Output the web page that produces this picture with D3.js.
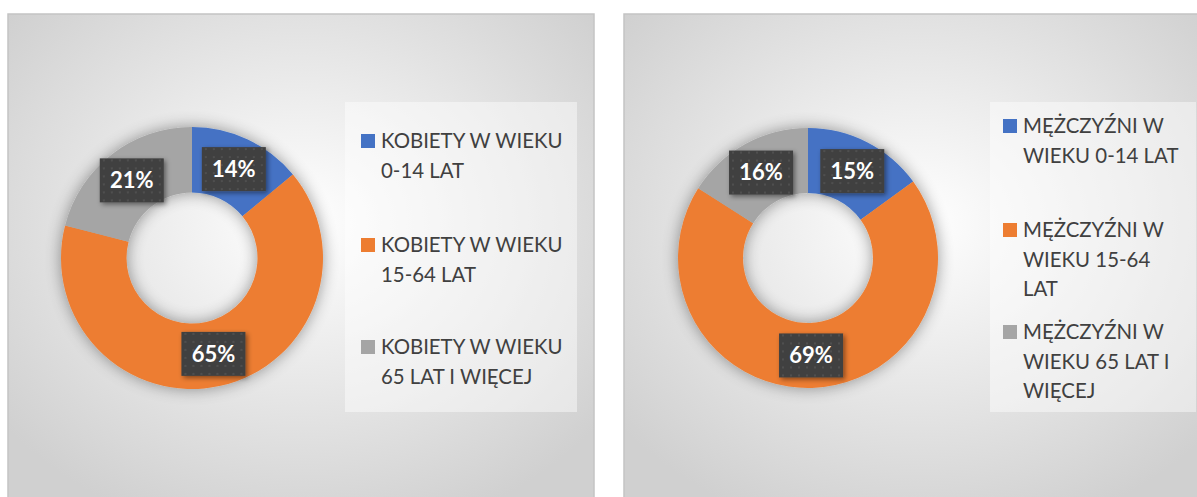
<html>
  <head>
    <meta charset="utf-8">
    <title>Struktura wieku</title>
    <script src="https://cdn.jsdelivr.net/npm/d3@7"></script>
    <style>
      body { margin: 0; background: #ffffff; }
      svg text { font-family: Lato, "Open Sans", sans-serif; }
    </style>
  </head>
  <body>
    <svg id="chart" width="1197" height="497"></svg>
    <script>
      // dane
      const womenLabels = ["KOBIETY W WIEKU 0-14 LAT", "KOBIETY W WIEKU 15-64 LAT", "KOBIETY W WIEKU 65 LAT I WIĘCEJ"]
      const womenLines = [["KOBIETY W WIEKU", "0-14 LAT"], ["KOBIETY W WIEKU", "15-64 LAT"], ["KOBIETY W WIEKU", "65 LAT I WIĘCEJ"]]
      const womenValues = [14, 65, 21]
      const menLabels = ["MĘŻCZYŹNI W WIEKU 0-14 LAT", "MĘŻCZYŹNI W WIEKU 15-64 LAT", "MĘŻCZYŹNI W WIEKU 65 LAT I WIĘCEJ"]
      const menLines = [["MĘŻCZYŹNI W", "WIEKU 0-14 LAT"], ["MĘŻCZYŹNI W", "WIEKU 15-64", "LAT"], ["MĘŻCZYŹNI W", "WIEKU 65 LAT I", "WIĘCEJ"]]
      const menValues = [15, 69, 16]
      const colors = ["#4472c4", "#ed7d31", "#a5a5a5"]

      const svg = d3.select("#chart")
      const defs = svg.append("defs")

      // tlo panelu
      const grad = defs.append("radialGradient")
                       .attr("id", "bg").attr("cx", "50%").attr("cy", "42%").attr("r", "65%")
      grad.append("stop").attr("offset", "0%").attr("stop-color", "#ffffff")
      grad.append("stop").attr("offset", "100%").attr("stop-color", "#d0d0d0")

      // kropkowane tlo etykiet
      const pat = defs.append("pattern").attr("id", "dots")
                      .attr("width", 8).attr("height", 8).attr("patternUnits", "userSpaceOnUse")
      pat.append("rect").attr("width", 8).attr("height", 8).attr("fill", "#404040")
      pat.append("circle").attr("cx", 4).attr("cy", 4).attr("r", 1).attr("fill", "#555555")

      const halo = defs.append("filter").attr("id", "halo")
                       .attr("x", "-20%").attr("y", "-20%").attr("width", "140%").attr("height", "140%")
      halo.append("feGaussianBlur").attr("in", "SourceAlpha").attr("stdDeviation", 8).attr("result", "b")
      halo.append("feComponentTransfer").attr("in", "b").attr("result", "c")
          .append("feFuncA").attr("type", "linear").attr("slope", 0.4)
      const hm = halo.append("feMerge")
      hm.append("feMergeNode").attr("in", "c")
      hm.append("feMergeNode").attr("in", "SourceGraphic")

      const shadow = defs.append("filter").attr("id", "shadow")
                         .attr("x", "-30%").attr("y", "-30%").attr("width", "160%").attr("height", "160%")
      shadow.append("feDropShadow").attr("dx", 2).attr("dy", 2).attr("stdDeviation", 2.5)
            .attr("flood-color", "#000").attr("flood-opacity", 0.45)

      function drawPanel(opts){
        const g = svg.append("g")
        g.append("rect")
         .attr("x", opts.x).attr("y", 14)
         .attr("width", opts.w).attr("height", 497)
         .attr("fill", "url(#bg)")
         .attr("stroke", "#c4c4c4").attr("stroke-width", 1.5)

        const pie = d3.pie().sort(null).value(d => d)
        const arcs = pie(opts.values)
        const arc = d3.arc().innerRadius(opts.r * 0.5).outerRadius(opts.r)
        const labelArc = d3.arc().innerRadius(opts.r * 0.75).outerRadius(opts.r * 0.75)

        const donut = g.append("g")
                       .attr("transform", `translate(${opts.cx},${opts.cy})`)
        donut.append("g").attr("filter", "url(#halo)")
             .selectAll("path")
             .data(arcs)
             .join("path")
             .attr("d", arc)
             .attr("fill", (d, i) => colors[i])

        const lab = donut.selectAll("g.lab")
                         .data(arcs)
                         .join("g")
                         .attr("class", "lab")
                         .attr("transform", d => `translate(${labelArc.centroid(d)})`)
        lab.append("rect")
           .attr("x", -32).attr("y", -22).attr("width", 64).attr("height", 44)
           .attr("fill", "url(#dots)")
           .attr("filter", "url(#shadow)")
        lab.append("text")
           .attr("text-anchor", "middle").attr("dy", "0.36em")
           .attr("fill", "#ffffff").attr("font-weight", "bold").attr("font-size", 22)
           .text(d => d.value + "%")

        // legenda
        g.append("rect")
         .attr("x", opts.lx).attr("y", 102)
         .attr("width", opts.lw).attr("height", 310)
         .attr("fill", "#ffffff").attr("fill-opacity", 0.45)

        const item = g.selectAll("g.leg")
                      .data(opts.lines)
                      .join("g")
                      .attr("class", "leg")
                      .attr("transform", (d, i) => `translate(${opts.sx},${opts.ly[i]})`)
        item.append("rect")
            .attr("x", 0).attr("y", -14).attr("width", 14).attr("height", 14)
            .attr("fill", (d, i) => colors[i])
        item.append("text")
            .attr("x", 20).attr("y", 0)
            .attr("fill", "#404040").attr("font-size", 20.4)
            .selectAll("tspan")
            .data(d => d)
            .join("tspan")
            .attr("x", 20)
            .attr("dy", (d, i) => i === 0 ? 0 : 29.5)
            .text(d => d)
      }

      drawPanel({x: 8, w: 586, cx: 192, cy: 258, r: 131,
                 values: womenValues, lines: womenLines,
                 lx: 345, lw: 232, sx: 361, ly: [148, 252, 354]})
      drawPanel({x: 624, w: 590, cx: 808, cy: 258, r: 130,
                 values: menValues, lines: menLines,
                 lx: 990, lw: 206, sx: 1003, ly: [133, 237, 339]})
    </script>
  </body>
</html>
